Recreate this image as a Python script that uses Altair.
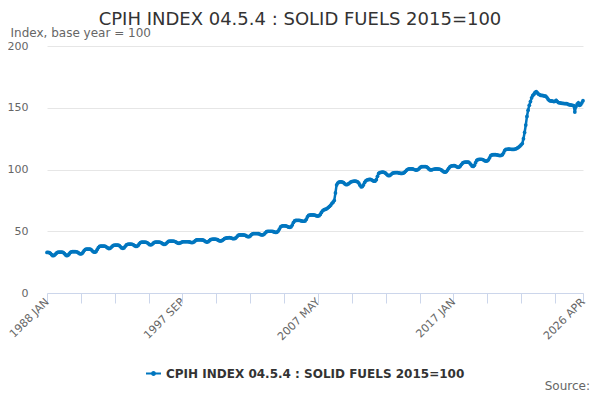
import altair as alt
import pandas as pd

series_name = "CPIH INDEX 04.5.4 : SOLID FUELS 2015=100"

# monthly index values, one year per row
idx_1988_1997 = [
    32.8, 32.9, 32.6, 32.0, 31.0, 30.2, 30.4, 31.2, 32.2, 32.8, 33.0, 33.0,
    33.0, 33.0, 32.7, 31.8, 30.8, 30.2, 30.6, 31.6, 32.8, 33.4, 33.5, 33.5,
    33.5, 33.4, 33.1, 32.4, 31.8, 31.6, 32.0, 33.2, 34.6, 35.4, 35.6, 35.6,
    35.6, 35.5, 35.0, 34.0, 33.2, 33.0, 33.6, 35.2, 36.8, 37.7, 38.0, 38.0,
    38.0, 38.0, 37.8, 37.2, 36.5, 36.0, 36.2, 37.0, 38.0, 38.5, 38.7, 38.8,
    38.8, 38.7, 38.3, 37.4, 36.5, 36.2, 36.6, 37.8, 39.0, 39.4, 39.5, 39.5,
    39.5, 39.4, 39.0, 38.3, 37.8, 37.8, 38.5, 39.8, 40.8, 41.1, 41.1, 41.1,
    41.1, 41.0, 40.6, 39.8, 39.1, 39.0, 39.4, 40.3, 41.0, 41.2, 41.2, 41.2,
    41.2, 41.0, 40.6, 39.9, 39.4, 39.4, 40.0, 41.0, 41.8, 42.0, 42.0, 42.0,
    42.0, 41.9, 41.5, 40.9, 40.4, 40.2, 40.5, 41.0, 41.4, 41.5, 41.5, 41.5,
]
idx_1998_2007 = [
    41.5, 41.5, 41.3, 41.0, 40.8, 40.9, 41.5, 42.4, 43.0, 43.1, 43.1, 43.1,
    43.1, 43.0, 42.8, 42.2, 41.5, 41.2, 41.5, 42.4, 43.2, 43.5, 43.6, 43.6,
    43.6, 43.5, 43.2, 42.6, 42.2, 42.2, 42.6, 43.3, 44.0, 44.4, 44.6, 44.7,
    44.8, 44.7, 44.5, 44.1, 44.0, 44.2, 44.9, 46.0, 46.8, 47.0, 47.0, 47.0,
    47.0, 46.9, 46.6, 46.0, 45.6, 45.6, 46.2, 47.2, 47.9, 48.1, 48.1, 48.1,
    48.1, 48.0, 47.7, 47.2, 47.0, 47.1, 47.7, 48.7, 49.6, 49.9, 50.0, 50.0,
    50.0, 49.9, 49.6, 49.2, 49.0, 49.3, 50.2, 51.8, 53.5, 54.2, 54.4, 54.4,
    54.4, 54.2, 53.8, 53.3, 53.2, 53.6, 55.0, 57.0, 58.4, 58.8, 58.9, 58.9,
    58.9, 58.7, 58.4, 58.1, 58.1, 58.4, 59.6, 61.6, 62.8, 63.1, 63.2, 63.2,
    63.2, 63.1, 62.8, 62.4, 62.3, 62.6, 63.6, 65.2, 66.6, 67.3, 67.7, 68.0,
]
idx_2008_2017 = [
    68.6, 69.4, 70.2, 71.2, 72.5, 73.5, 75.0, 81.0, 87.5, 89.0, 89.8, 90.0,
    90.0, 89.8, 89.3, 88.4, 87.8, 87.8, 88.3, 89.0, 89.8, 90.2, 90.4, 90.5,
    90.5, 90.3, 90.0, 89.0, 87.3, 86.0, 86.2, 87.5, 89.5, 90.8, 91.5, 91.8,
    92.0, 92.0, 91.6, 91.0, 90.5, 90.6, 91.8, 94.5, 96.8, 97.5, 97.7, 97.8,
    97.8, 97.5, 97.0, 96.0, 95.2, 95.0, 95.5, 96.3, 97.0, 97.3, 97.4, 97.5,
    97.5, 97.3, 97.0, 96.8, 96.8, 97.0, 97.6, 98.5, 99.5, 100.2, 100.5, 100.6,
    100.6, 100.5, 100.2, 99.8, 99.5, 99.6, 100.2, 101.2, 102.0, 102.3, 102.4, 102.4,
    102.4, 102.2, 101.5, 100.5, 99.7, 99.6, 99.9, 100.2, 100.4, 100.5, 100.5, 100.4,
    100.3, 100.0, 99.4, 98.6, 98.0, 97.8, 98.3, 99.5, 101.0, 102.2, 102.8, 103.0,
    103.1, 103.1, 102.8, 102.2, 101.8, 102.0, 102.9, 104.2, 105.3, 105.8, 106.0, 106.0,
]
idx_2018_2026 = [
    106.0, 105.9, 105.2, 104.0, 102.8, 102.5, 103.4, 105.5, 107.3, 108.0, 108.2, 108.3,
    108.3, 108.1, 107.6, 107.0, 106.8, 107.0, 107.8, 109.5, 111.3, 111.8, 112.0, 112.0,
    112.0, 111.9, 111.7, 111.4, 111.3, 111.5, 112.0, 113.5, 115.5, 116.2, 116.4, 116.5,
    116.5, 116.4, 116.3, 116.2, 116.3, 116.6, 117.0, 117.5, 118.2, 119.0, 120.0, 121.0,
    125.0, 130.0, 136.0, 143.0, 148.0, 152.0, 155.0, 158.0, 160.0, 161.0, 162.5, 163.0,
    162.0, 161.0, 160.5, 160.0, 160.0, 159.8, 159.5, 159.5, 158.5, 157.0, 156.0, 155.5,
    155.5, 155.3, 155.0, 155.2, 156.0, 155.0, 154.2, 154.0, 153.8, 153.6, 153.5, 153.4,
    153.4, 153.3, 153.0, 152.5, 152.3, 152.2, 152.0, 151.8, 146.5, 151.0, 153.0, 154.0,
    152.0, 152.5, 154.0, 155.7,
]

label_months = [0, 116, 232, 348, 459]
label_texts = ["1988 JAN", "1997 SEP", "2007 MAY", "2017 JAN", "2026 APR"]
y_ticks = [0, 50, 100, 150, 200]

values = idx_1988_1997 + idx_1998_2007 + idx_2008_2017 + idx_2018_2026
dates = pd.date_range("1988-01-01", periods=len(values), freq="MS")
df = pd.DataFrame({
    "month": range(len(values)),
    "date": dates.strftime("%Y %b").str.upper(),
    "value": values,
    "series": series_name,
})

last = len(values) - 1
tick_months = list(range(0, last, 29)) + [last]
label_expr = " : ".join(
    f"datum.value == {m} ? '{t}'" for m, t in zip(label_months, label_texts)
) + " : ''"

blue = "#0076bf"
grey = "#666666"

line = (
    alt.Chart(df)
    .mark_line(strokeWidth=2.5, point=alt.OverlayMarkDef(filled=True, size=14))
    .encode(
        x=alt.X(
            "month:Q",
            scale=alt.Scale(domain=[0, last], nice=False, zero=False),
            axis=alt.Axis(
                values=tick_months, labelExpr=label_expr, labelAngle=-45,
                labelAlign="right", labelBaseline="middle", labelPadding=-3,
                grid=False, tickSize=10, tickColor="#ccd6eb", domainColor="#ccd6eb",
                labelColor=grey, labelFontSize=11, title=None,
            ),
        ),
        y=alt.Y(
            "value:Q",
            scale=alt.Scale(domain=[0, 200]),
            axis=alt.Axis(
                values=y_ticks, title="Index, base year = 100", titleAngle=0,
                titleAlign="left", titleBaseline="alphabetic", titleX=-37, titleY=-10,
                titleFontWeight="normal", titleFontSize=12, titleColor=grey,
                domain=False, ticks=False, labelPadding=19, gridColor="#e6e6e6",
                labelColor=grey, labelFontSize=11,
            ),
        ),
        color=alt.Color(
            "series:N",
            scale=alt.Scale(range=[blue]),
            legend=alt.Legend(
                title=None, orient="none", legendX=98, legendY=319,
                labelFontSize=12, labelFontWeight="bold", labelColor="#333333",
                labelLimit=500, symbolType="M-1,0H1M-0.2,0A0.2,0.2,0,1,1,0.2,0A0.2,0.2,0,1,1,-0.2,0",
                symbolSize=225, symbolStrokeWidth=2,
            ),
        ),
        tooltip=["date:N", "value:Q"],
    )
)

title = (
    alt.Chart(pd.DataFrame({"t": [series_name]}))
    .mark_text(align="center", baseline="alphabetic", fontSize=18, color="#333333")
    .encode(text="t:N", x=alt.value(253), y=alt.value(-21))
)

source = (
    alt.Chart(pd.DataFrame({"t": ["Source:"]}))
    .mark_text(align="right", baseline="alphabetic", fontSize=12, color=grey)
    .encode(text="t:N", x=alt.value(543), y=alt.value(344))
)

chart = (
    (line + title + source)
    .properties(
        width=536,
        height=247,
        autosize=alt.AutoSizeParams(type="none"),
        padding={"left": 39, "top": 38, "right": 9, "bottom": 99},
    )
    .configure(font="DejaVu Sans")
    .configure_view(stroke=None)
)

chart.save("out.html", embed_options={"renderer": "svg", "actions": False})
